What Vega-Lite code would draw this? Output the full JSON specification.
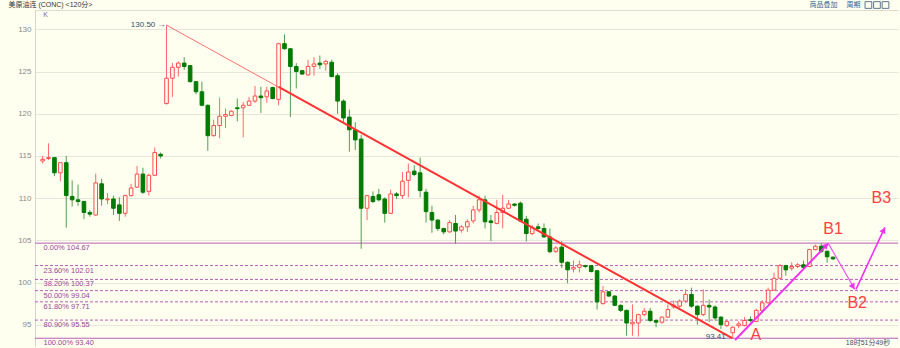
{
  "$schema": "https://vega.github.io/schema/vega-lite/v6.json",
  "autosize": {"type": "none"},
  "padding": {"left": 35, "top": 10, "right": 2, "bottom": 2},
  "width": 863,
  "height": 336,
  "background": "#fffff0",
  "config": {
    "view": {"stroke": null},
    "font": "Liberation Sans, Noto Sans CJK SC",
    "text": {"font": "Liberation Sans, Noto Sans CJK SC"}
  },
  "datasets": {
    "k": [
      {"i":0,"o":114.4,"h":115.0,"l":114.1,"c":114.6},
      {"i":1,"o":114.7,"h":116.5,"l":114.5,"c":114.8},
      {"i":2,"o":114.8,"h":114.8,"l":112.6,"c":113.0},
      {"i":3,"o":113.0,"h":114.2,"l":112.0,"c":114.2},
      {"i":4,"o":114.2,"h":115.0,"l":106.5,"c":110.3},
      {"i":5,"o":110.2,"h":112.1,"l":109.0,"c":109.8},
      {"i":6,"o":109.8,"h":111.6,"l":109.1,"c":109.6},
      {"i":7,"o":109.6,"h":109.7,"l":107.5,"c":108.3},
      {"i":8,"o":108.3,"h":108.6,"l":107.8,"c":108.1},
      {"i":9,"o":108.0,"h":112.9,"l":107.9,"c":111.8},
      {"i":10,"o":111.7,"h":112.3,"l":109.1,"c":109.9},
      {"i":11,"o":109.8,"h":110.6,"l":109.3,"c":109.9},
      {"i":12,"o":109.9,"h":110.3,"l":108.0,"c":108.8},
      {"i":13,"o":109.2,"h":110.1,"l":107.3,"c":108.2},
      {"i":14,"o":108.2,"h":110.4,"l":107.8,"c":110.3},
      {"i":15,"o":110.3,"h":111.7,"l":110.2,"c":111.2},
      {"i":16,"o":111.3,"h":113.8,"l":111.2,"c":112.85},
      {"i":17,"o":112.85,"h":113.6,"l":110.5,"c":110.7},
      {"i":18,"o":110.8,"h":112.9,"l":110.3,"c":112.7},
      {"i":19,"o":112.7,"h":116.0,"l":112.6,"c":115.4},
      {"i":20,"o":115.2,"h":115.4,"l":114.7,"c":115.0},
      {"i":21,"o":121.2,"h":130.5,"l":121.1,"c":124.2},
      {"i":22,"o":124.2,"h":126.0,"l":122.0,"c":125.5},
      {"i":23,"o":125.5,"h":126.2,"l":124.4,"c":126.0},
      {"i":24,"o":126.0,"h":126.7,"l":125.2,"c":125.6},
      {"i":25,"o":125.7,"h":125.7,"l":123.7,"c":123.8},
      {"i":26,"o":123.8,"h":123.9,"l":122.3,"c":122.6},
      {"i":27,"o":122.6,"h":123.8,"l":120.9,"c":121.0},
      {"i":28,"o":121.0,"h":121.1,"l":115.6,"c":117.4},
      {"i":29,"o":117.4,"h":119.3,"l":117.3,"c":118.6},
      {"i":30,"o":118.6,"h":121.9,"l":117.1,"c":119.7},
      {"i":31,"o":119.7,"h":120.6,"l":118.3,"c":119.9},
      {"i":32,"o":119.8,"h":120.4,"l":119.7,"c":120.3},
      {"i":33,"o":120.7,"h":121.8,"l":119.1,"c":120.6},
      {"i":34,"o":120.7,"h":121.4,"l":117.2,"c":121.0},
      {"i":35,"o":121.0,"h":122.0,"l":120.9,"c":121.5},
      {"i":36,"o":121.5,"h":123.3,"l":121.3,"c":122.1},
      {"i":37,"o":122.1,"h":123.2,"l":120.1,"c":121.9},
      {"i":38,"o":122.0,"h":123.2,"l":121.3,"c":122.7},
      {"i":39,"o":123.1,"h":123.2,"l":121.7,"c":121.8},
      {"i":40,"o":121.7,"h":128.4,"l":121.0,"c":128.3},
      {"i":41,"o":128.3,"h":129.4,"l":127.6,"c":127.7},
      {"i":42,"o":127.7,"h":127.8,"l":119.6,"c":125.6},
      {"i":43,"o":125.6,"h":126.0,"l":123.0,"c":125.0},
      {"i":44,"o":125.1,"h":125.2,"l":124.6,"c":124.7},
      {"i":45,"o":124.6,"h":126.4,"l":124.5,"c":125.6},
      {"i":46,"o":125.6,"h":126.7,"l":124.5,"c":125.9},
      {"i":47,"o":126.0,"h":126.9,"l":125.3,"c":125.8},
      {"i":48,"o":125.9,"h":126.4,"l":125.1,"c":126.2},
      {"i":49,"o":126.1,"h":126.4,"l":124.3,"c":124.4},
      {"i":50,"o":124.5,"h":124.8,"l":120.0,"c":121.5},
      {"i":51,"o":121.5,"h":121.7,"l":118.9,"c":119.5},
      {"i":52,"o":119.6,"h":120.5,"l":115.5,"c":118.1},
      {"i":53,"o":118.1,"h":119.0,"l":115.7,"c":116.9},
      {"i":54,"o":117.0,"h":117.5,"l":104.0,"c":108.8},
      {"i":55,"o":108.8,"h":110.4,"l":107.4,"c":110.3},
      {"i":56,"o":110.2,"h":110.8,"l":109.4,"c":109.6},
      {"i":57,"o":110.4,"h":111.1,"l":109.6,"c":109.8},
      {"i":58,"o":109.9,"h":110.1,"l":107.1,"c":108.2},
      {"i":59,"o":108.2,"h":111.0,"l":108.1,"c":110.5},
      {"i":60,"o":110.5,"h":110.7,"l":109.9,"c":110.3},
      {"i":61,"o":110.3,"h":113.1,"l":109.9,"c":112.0},
      {"i":62,"o":112.1,"h":114.1,"l":110.1,"c":113.1},
      {"i":63,"o":113.2,"h":113.9,"l":112.6,"c":112.8},
      {"i":64,"o":113.0,"h":114.8,"l":110.1,"c":110.9},
      {"i":65,"o":110.7,"h":111.1,"l":107.1,"c":108.4},
      {"i":66,"o":108.3,"h":109.1,"l":105.9,"c":107.4},
      {"i":67,"o":107.4,"h":107.5,"l":106.1,"c":106.4},
      {"i":68,"o":106.4,"h":106.5,"l":105.7,"c":106.0},
      {"i":69,"o":106.0,"h":107.4,"l":105.9,"c":107.1},
      {"i":70,"o":107.0,"h":108.0,"l":104.6,"c":106.1},
      {"i":71,"o":106.2,"h":106.8,"l":105.9,"c":106.6},
      {"i":72,"o":106.6,"h":107.5,"l":106.0,"c":107.2},
      {"i":73,"o":107.3,"h":109.1,"l":107.0,"c":108.6},
      {"i":74,"o":108.6,"h":110.3,"l":108.3,"c":109.8},
      {"i":75,"o":109.8,"h":110.3,"l":106.4,"c":107.2},
      {"i":76,"o":107.3,"h":108.0,"l":104.9,"c":107.1},
      {"i":77,"o":107.0,"h":109.8,"l":106.9,"c":108.3},
      {"i":78,"o":108.3,"h":110.4,"l":106.4,"c":108.8},
      {"i":79,"o":108.8,"h":109.8,"l":108.7,"c":109.3},
      {"i":80,"o":109.3,"h":109.4,"l":109.0,"c":109.15},
      {"i":81,"o":109.4,"h":109.6,"l":107.2,"c":107.3},
      {"i":82,"o":107.5,"h":107.9,"l":104.85,"c":105.8},
      {"i":83,"o":105.8,"h":106.8,"l":105.6,"c":106.5},
      {"i":84,"o":106.6,"h":107.0,"l":106.2,"c":106.4},
      {"i":85,"o":106.4,"h":107.0,"l":105.3,"c":105.4},
      {"i":86,"o":105.4,"h":106.4,"l":103.5,"c":103.65},
      {"i":87,"o":103.7,"h":104.3,"l":103.5,"c":104.1},
      {"i":88,"o":104.2,"h":104.9,"l":101.7,"c":102.4},
      {"i":89,"o":102.4,"h":102.5,"l":99.9,"c":101.5},
      {"i":90,"o":101.6,"h":102.6,"l":101.2,"c":101.8},
      {"i":91,"o":101.8,"h":102.6,"l":101.2,"c":102.1},
      {"i":92,"o":102.0,"h":102.1,"l":101.7,"c":101.9},
      {"i":93,"o":102.0,"h":102.1,"l":101.2,"c":101.3},
      {"i":94,"o":101.4,"h":101.5,"l":96.8,"c":97.7},
      {"i":95,"o":97.5,"h":99.6,"l":97.4,"c":98.9},
      {"i":96,"o":98.9,"h":99.0,"l":98.3,"c":98.4},
      {"i":97,"o":98.4,"h":98.5,"l":97.2,"c":97.3},
      {"i":98,"o":97.3,"h":97.4,"l":96.5,"c":96.7},
      {"i":99,"o":96.7,"h":96.8,"l":93.7,"c":95.2},
      {"i":100,"o":95.1,"h":97.4,"l":93.7,"c":95.3},
      {"i":101,"o":95.2,"h":96.3,"l":93.6,"c":96.2},
      {"i":102,"o":96.2,"h":97.0,"l":96.0,"c":96.6},
      {"i":103,"o":96.6,"h":97.0,"l":95.3,"c":95.5},
      {"i":104,"o":95.5,"h":95.6,"l":94.7,"c":95.3},
      {"i":105,"o":95.3,"h":96.0,"l":95.1,"c":95.9},
      {"i":106,"o":95.9,"h":97.4,"l":95.8,"c":96.8},
      {"i":107,"o":97.1,"h":97.9,"l":96.9,"c":97.3},
      {"i":108,"o":97.2,"h":98.0,"l":97.0,"c":97.8},
      {"i":109,"o":97.8,"h":99.2,"l":97.6,"c":98.6},
      {"i":110,"o":98.6,"h":99.4,"l":97.0,"c":97.2},
      {"i":111,"o":97.2,"h":97.3,"l":95.0,"c":96.2},
      {"i":112,"o":96.2,"h":99.2,"l":96.0,"c":97.3},
      {"i":113,"o":97.3,"h":98.0,"l":95.3,"c":97.1},
      {"i":114,"o":97.1,"h":97.3,"l":95.5,"c":95.8},
      {"i":115,"o":95.9,"h":96.0,"l":94.5,"c":95.0},
      {"i":116,"o":94.9,"h":95.5,"l":94.7,"c":95.4},
      {"i":117,"o":94.05,"h":94.8,"l":93.41,"c":94.7},
      {"i":118,"o":94.9,"h":95.4,"l":94.6,"c":95.1},
      {"i":119,"o":94.9,"h":95.9,"l":94.8,"c":95.5},
      {"i":120,"o":95.6,"h":96.0,"l":95.3,"c":95.5},
      {"i":121,"o":95.4,"h":96.9,"l":95.3,"c":96.7},
      {"i":122,"o":96.7,"h":97.9,"l":96.5,"c":97.6},
      {"i":123,"o":97.6,"h":99.4,"l":97.5,"c":99.1},
      {"i":124,"o":99.1,"h":101.2,"l":99.0,"c":100.5},
      {"i":125,"o":100.5,"h":102.2,"l":100.4,"c":102.0},
      {"i":126,"o":102.0,"h":102.1,"l":100.8,"c":101.5},
      {"i":127,"o":101.7,"h":102.4,"l":101.4,"c":101.9},
      {"i":128,"o":101.9,"h":102.3,"l":101.7,"c":102.1},
      {"i":129,"o":102.1,"h":102.6,"l":101.6,"c":101.8},
      {"i":130,"o":101.9,"h":104.0,"l":101.8,"c":103.9},
      {"i":131,"o":103.9,"h":104.5,"l":103.8,"c":104.3},
      {"i":132,"o":104.3,"h":104.67,"l":103.5,"c":103.7},
      {"i":133,"o":103.7,"h":103.8,"l":102.35,"c":103.05},
      {"i":134,"o":103.0,"h":103.1,"l":102.7,"c":102.8}
    ],
    "fib": [
      {"v":104.67,"t":"0.00% 104.67","s":"solid"},
      {"v":102.01,"t":"23.60% 102.01","s":"dash"},
      {"v":100.37,"t":"38.20% 100.37","s":"dash"},
      {"v":99.04,"t":"50.00% 99.04","s":"dash"},
      {"v":97.71,"t":"61.80% 97.71","s":"dash"},
      {"v":95.55,"t":"80.90% 95.55","s":"dash"},
      {"v":93.40,"t":"100.00% 93.40","s":"solid"}
    ],
    "trendThin": [{"i":21,"v":130.5},{"i":116.9,"v":93.4}],
    "trendThick": [{"i":40,"v":123.17},{"i":116.9,"v":93.4}],
    "magA": [{"i":117.4,"v":93.19},{"i":133.2,"v":104.64}],
    "magB": [{"i":133.2,"v":104.64},{"i":137.7,"v":99.19}],
    "magC": [{"i":137.9,"v":99.19},{"i":142.8,"v":106.54}],
    "heads": [
      {"i":132.85,"v":104.4,"a":44},
      {"i":137.4,"v":99.5,"a":150},
      {"i":142.6,"v":106.2,"a":26}
    ],
    "labels": [
      {"i":120.9,"v":93.84,"t":"A"},
      {"i":134.0,"v":106.34,"t":"B1"},
      {"i":138.1,"v":97.57,"t":"B2"},
      {"i":142.2,"v":110.07,"t":"B3"}
    ]
  },
  "layer": [
    {
      "data": {"name": "fib"},
      "mark": {"type": "rule", "color": "#b55fb5", "strokeWidth": 1},
      "encoding": {
        "y": {"field": "v", "type": "quantitative", "scale": {"domain": [92.48, 132.29], "nice": false, "zero": false},
          "axis": {"values": [95, 100, 105, 110, 115, 120, 125, 130], "grid": true, "gridColor": "#e6e6dc", "ticks": false, "labelColor": "#8a8a8a", "labelFontSize": 8, "labelPadding": 4, "domainColor": "#d4d4d4", "title": null}},
        "strokeDash": {"field": "s", "type": "nominal", "scale": {"domain": ["solid", "dash"], "range": [[1, 0], [3, 2]]}, "legend": null}
      }
    },
    {
      "data": {"name": "fib"},
      "mark": {"type": "text", "align": "left", "baseline": "top", "dx": 2, "dy": 1, "fontSize": 7.5, "color": "#9a3f9a"},
      "encoding": {
        "x": {"datum": -0.2, "type": "quantitative"},
        "y": {"field": "v", "type": "quantitative"},
        "text": {"field": "t"}
      }
    },
    {
      "data": {"name": "k"},
      "mark": {"type": "rule", "strokeWidth": 1},
      "encoding": {
        "x": {"field": "i", "type": "quantitative", "scale": {"domain": [-0.45, 144.17], "nice": false, "zero": false},
          "axis": {"orient": "top", "labels": false, "ticks": false, "grid": false, "domainColor": "#dcdcd0", "title": null}},
        "y": {"field": "l", "type": "quantitative"},
        "y2": {"field": "h"},
        "color": {"condition": {"test": "datum.c >= datum.o", "value": "#ff6a6a"}, "value": "#4f9f4f"}
      }
    },
    {
      "data": {"name": "k"},
      "mark": {"type": "bar", "size": 3.6, "strokeWidth": 1},
      "encoding": {
        "x": {"field": "i", "type": "quantitative"},
        "y": {"field": "o", "type": "quantitative"},
        "y2": {"field": "c"},
        "fill": {"condition": {"test": "datum.c >= datum.o", "value": "#fffff0"}, "value": "#007a00"},
        "stroke": {"condition": {"test": "datum.c >= datum.o", "value": "#ff4d4d"}, "value": "#007a00"}
      }
    },
    {
      "data": {"name": "trendThin"},
      "mark": {"type": "line", "color": "#ff7070", "strokeWidth": 1},
      "encoding": {"x": {"field": "i", "type": "quantitative"}, "y": {"field": "v", "type": "quantitative"}}
    },
    {
      "data": {"name": "trendThick"},
      "mark": {"type": "line", "color": "#ff3333", "strokeWidth": 2},
      "encoding": {"x": {"field": "i", "type": "quantitative"}, "y": {"field": "v", "type": "quantitative"}}
    },
    {
      "data": {"name": "magA"},
      "mark": {"type": "line", "color": "#ee33ee", "strokeWidth": 2},
      "encoding": {"x": {"field": "i", "type": "quantitative"}, "y": {"field": "v", "type": "quantitative"}}
    },
    {
      "data": {"name": "magB"},
      "mark": {"type": "line", "color": "#f055f0", "strokeWidth": 1.2},
      "encoding": {"x": {"field": "i", "type": "quantitative"}, "y": {"field": "v", "type": "quantitative"}}
    },
    {
      "data": {"name": "magC"},
      "mark": {"type": "line", "color": "#ee33ee", "strokeWidth": 1.6},
      "encoding": {"x": {"field": "i", "type": "quantitative"}, "y": {"field": "v", "type": "quantitative"}}
    },
    {
      "data": {"name": "heads"},
      "mark": {"type": "point", "shape": "triangle-up", "filled": true, "color": "#ee33ee", "size": 45, "opacity": 1},
      "encoding": {
        "x": {"field": "i", "type": "quantitative"},
        "y": {"field": "v", "type": "quantitative"},
        "angle": {"field": "a", "type": "quantitative", "scale": null}
      }
    },
    {
      "data": {"name": "labels"},
      "mark": {"type": "text", "fontSize": 16, "color": "#ff4040", "align": "center", "baseline": "middle"},
      "encoding": {
        "x": {"field": "i", "type": "quantitative"},
        "y": {"field": "v", "type": "quantitative"},
        "text": {"field": "t"}
      }
    },
    {
      "data": {"values": [{"i": 21, "v": 130.5, "t": "130.50 →"}]},
      "mark": {"type": "text", "align": "right", "baseline": "middle", "dx": -1, "fontSize": 8, "color": "#3a4e66"},
      "encoding": {"x": {"field": "i", "type": "quantitative"}, "y": {"field": "v", "type": "quantitative"}, "text": {"field": "t"}}
    },
    {
      "data": {"values": [{"i": 117, "v": 93.41, "t": "93.41"}]},
      "mark": {"type": "text", "align": "right", "baseline": "middle", "dx": -7, "dy": -1, "fontSize": 8, "color": "#3a4e66"},
      "encoding": {"x": {"field": "i", "type": "quantitative"}, "y": {"field": "v", "type": "quantitative"}, "text": {"field": "t"}}
    },
    {
      "data": {"values": [
        {"i": -5.8, "v": 132.88, "t": "美原油连 (CONC) <120分>", "col": "#333333"},
        {"i": 130.0, "v": 132.88, "t": "商品叠加", "col": "#2f5f8f"},
        {"i": 136.3, "v": 132.88, "t": "周期", "col": "#2f5f8f"},
        {"i": 0.1, "v": 131.7, "t": "K", "col": "#777777"}
      ]},
      "mark": {"type": "text", "align": "left", "baseline": "middle", "fontSize": 7},
      "encoding": {
        "x": {"field": "i", "type": "quantitative"},
        "y": {"field": "v", "type": "quantitative"},
        "text": {"field": "t"},
        "color": {"field": "col", "type": "nominal", "scale": null}
      }
    },
    {
      "data": {"values": [{"i": 140.0, "v": 132.88}, {"i": 141.45, "v": 132.88}, {"i": 142.9, "v": 132.88}]},
      "mark": {"type": "point", "shape": "square", "filled": false, "color": "#5f7590", "size": 45, "strokeWidth": 1, "opacity": 1},
      "encoding": {
        "x": {"field": "i", "type": "quantitative"},
        "y": {"field": "v", "type": "quantitative"}
      }
    },
    {
      "data": {"values": [{"i": 143.7, "v": 92.83, "t": "18时51分49秒"}]},
      "mark": {"type": "text", "align": "right", "baseline": "middle", "fontSize": 7, "color": "#44516a"},
      "encoding": {
        "x": {"field": "i", "type": "quantitative"},
        "y": {"field": "v", "type": "quantitative"},
        "text": {"field": "t"}
      }
    }
  ]
}
